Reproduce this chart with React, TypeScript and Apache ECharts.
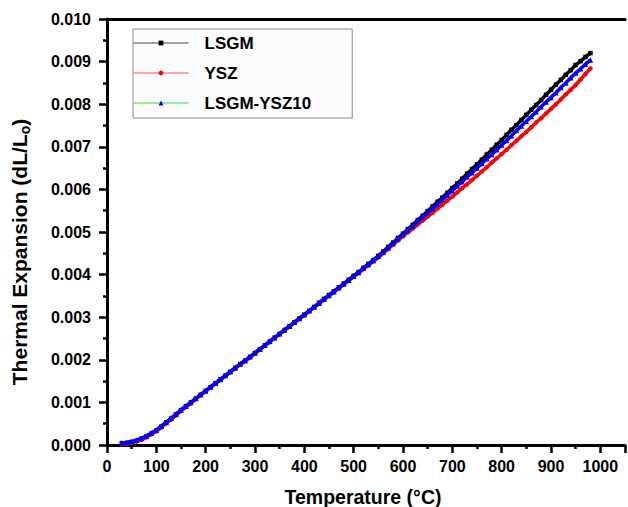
import React, { useEffect, useRef } from "react";
import * as echarts from "echarts";

const temperatures = [
  30, 40, 50, 60, 70, 80, 90, 100, 110, 120, 130, 140, 150, 160, 170, 180, 190, 200,
  210, 220, 230, 240, 250, 260, 270, 280, 290, 300, 310, 320, 330, 340, 350, 360, 370, 380,
  390, 400, 410, 420, 430, 440, 450, 460, 470, 480, 490, 500, 510, 520, 530, 540, 550, 560,
  570, 580, 590, 600, 610, 620, 630, 640, 650, 660, 670, 680, 690, 700, 710, 720, 730, 740,
  750, 760, 770, 780, 790, 800, 810, 820, 830, 840, 850, 860, 870, 880, 890, 900, 910, 920,
  930, 940, 950, 960, 970, 980,
];

const lsgm = [
  0.00004, 0.00005, 0.00007, 0.0001, 0.00015, 0.0002, 0.00027, 0.00034, 0.00043, 0.00053,
  0.00062, 0.00072, 0.00082, 0.00091, 0.001, 0.00109, 0.00118, 0.00127, 0.00136, 0.00145,
  0.00154, 0.00163, 0.00172, 0.00181, 0.0019, 0.00198, 0.00207, 0.00216, 0.00225, 0.00234,
  0.00243, 0.00252, 0.00261, 0.0027, 0.00279, 0.00288, 0.00297, 0.00306, 0.00315, 0.00324,
  0.00334, 0.00343, 0.00352, 0.00361, 0.0037, 0.00379, 0.00388, 0.00397, 0.00406, 0.00416,
  0.00425, 0.00434, 0.00444, 0.00454, 0.00465, 0.00475, 0.00486, 0.00496, 0.00507, 0.00517,
  0.00528, 0.00538, 0.00549, 0.0056, 0.00571, 0.00581, 0.00592, 0.00603, 0.00614, 0.00625,
  0.00637, 0.00648, 0.00659, 0.0067, 0.00682, 0.00693, 0.00705, 0.00716, 0.00728, 0.0074,
  0.00751, 0.00763, 0.00775, 0.00787, 0.00798, 0.0081, 0.00822, 0.00834, 0.00846, 0.00857,
  0.00869, 0.0088, 0.00892, 0.00901, 0.00911, 0.0092,
];

const ysz = [
  0.00002, 0.00003, 0.00005, 0.00008, 0.00012, 0.00018, 0.00025, 0.00032, 0.00041, 0.00051,
  0.0006, 0.0007, 0.0008, 0.00089, 0.00098, 0.00108, 0.00117, 0.00126, 0.00135, 0.00144,
  0.00153, 0.00162, 0.00171, 0.0018, 0.00189, 0.00197, 0.00206, 0.00215, 0.00224, 0.00233,
  0.00242, 0.00251, 0.0026, 0.00269, 0.00278, 0.00287, 0.00296, 0.00305, 0.00314, 0.00323,
  0.00332, 0.00341, 0.0035, 0.00359, 0.00368, 0.00377, 0.00386, 0.00395, 0.00404, 0.00413,
  0.00422, 0.00431, 0.0044, 0.0045, 0.0046, 0.0047, 0.0048, 0.0049, 0.00499, 0.00508,
  0.00518, 0.00527, 0.00536, 0.00545, 0.00555, 0.00564, 0.00574, 0.00583, 0.00593, 0.00603,
  0.00612, 0.00622, 0.00632, 0.00642, 0.00652, 0.00663, 0.00673, 0.00683, 0.00693, 0.00704,
  0.00714, 0.00725, 0.00735, 0.00746, 0.00757, 0.00767, 0.00778, 0.00789, 0.008, 0.00811,
  0.00823, 0.00834, 0.00845, 0.00858, 0.00871, 0.00884,
];

const lsgmYsz10 = [
  0.00005, 0.00006, 0.00008, 0.00011, 0.00016, 0.00021, 0.00028, 0.00035, 0.00044, 0.00053,
  0.00063, 0.00072, 0.00082, 0.00091, 0.001, 0.00109, 0.00118, 0.00127, 0.00136, 0.00145,
  0.00154, 0.00163, 0.00172, 0.00181, 0.0019, 0.00198, 0.00207, 0.00216, 0.00225, 0.00234,
  0.00243, 0.00252, 0.00261, 0.0027, 0.00279, 0.00288, 0.00297, 0.00306, 0.00315, 0.00324,
  0.00333, 0.00342, 0.00351, 0.0036, 0.00369, 0.00378, 0.00387, 0.00396, 0.00405, 0.00415,
  0.00424, 0.00433, 0.00443, 0.00453, 0.00463, 0.00473, 0.00484, 0.00494, 0.00504, 0.00514,
  0.00525, 0.00535, 0.00545, 0.00555, 0.00566, 0.00576, 0.00587, 0.00597, 0.00608, 0.00618,
  0.00629, 0.00639, 0.0065, 0.00661, 0.00672, 0.00682, 0.00693, 0.00704, 0.00715, 0.00726,
  0.00738, 0.00749, 0.0076, 0.00771, 0.00782, 0.00794, 0.00805, 0.00816, 0.00827, 0.00839,
  0.0085, 0.00862, 0.00873, 0.00883, 0.00894, 0.00904,
];

const seriesNames = ["LSGM", "YSZ", "LSGM-YSZ10"];
const xTitle = "Temperature (°C)";

const FONT = "'Liberation Sans', Arial, sans-serif";

export default function App() {
  const ref = useRef<HTMLDivElement>(null);

  useEffect(() => {
    if (!ref.current) return;
    const chart = echarts.init(ref.current, null, { renderer: "svg" });
    const pair = (arr: number[]) => temperatures.map((t, i) => [t, arr[i]]);

    const axisCommon = {
      axisLine: { show: true, lineStyle: { color: "#000", width: 3 } },
      splitLine: { show: false },
    };

    chart.setOption({
      animation: false,
      backgroundColor: "#fff",
      grid: { left: 107, top: 19, width: 523, height: 426 },
      legend: {
        left: 133,
        top: 29,
        orient: "vertical",
        itemWidth: 55,
        itemHeight: 6,
        itemGap: 13,
        padding: [5.5, 41, 6.5, 0],
        borderColor: "#8a8a8a",
        borderWidth: 1,
        backgroundColor: "#fcfcfc",
        textStyle: {
          fontFamily: FONT,
          fontWeight: "bold",
          fontSize: 17,
          color: "#000",
          padding: [0, 0, 0, 11],
        },
        data: [
          { name: seriesNames[0], itemStyle: { color: "#000" }, lineStyle: { color: "#444", width: 1 } },
          { name: seriesNames[1], itemStyle: { color: "#ff0000" }, lineStyle: { color: "#ff5050", width: 1 } },
          { name: seriesNames[2], itemStyle: { color: "#0000ff" }, lineStyle: { color: "#30e030", width: 1 } },
        ],
      },
      xAxis: [
        {
          type: "value",
          min: 0,
          max: 1050,
          interval: 100,
          position: "bottom",
          ...axisCommon,
          axisTick: { show: true, length: 8, inside: false, lineStyle: { color: "#000", width: 2.5 } },
          minorTick: { show: true, splitNumber: 2, length: 4, lineStyle: { color: "#000", width: 2.5 } },
          axisLabel: {
            margin: 13,
            fontFamily: FONT,
            fontWeight: "bold",
            fontSize: 16,
            color: "#000",
            formatter: (v: number) => (v <= 1000 ? String(v) : ""),
          },
        },
        {
          type: "value",
          min: 0,
          max: 1050,
          position: "top",
          ...axisCommon,
          axisTick: { show: false },
          axisLabel: { show: false },
        },
      ],
      yAxis: {
        type: "value",
        min: 0,
        max: 0.01,
        interval: 0.001,
        ...axisCommon,
        axisTick: { show: true, length: 8, lineStyle: { color: "#000", width: 2.5 } },
        minorTick: { show: true, splitNumber: 2, length: 4, lineStyle: { color: "#000", width: 2.5 } },
        axisLabel: {
          margin: 16,
          fontFamily: FONT,
          fontWeight: "bold",
          fontSize: 16,
          color: "#000",
          formatter: (v: number) => v.toFixed(3),
        },
      },
      graphic: [
        {
          type: "text",
          x: 363,
          y: 497,
          style: {
            text: xTitle,
            font: `bold 19.5px ${FONT}`,
            fill: "#000",
            align: "center",
            verticalAlign: "middle",
          },
        },
        {
          type: "text",
          x: 19,
          y: 252,
          rotation: Math.PI / 2,
          style: {
            text: "Thermal Expansion (dL/L{s|o})",
            font: `bold 21px ${FONT}`,
            fontFamily: FONT,
            fontWeight: "bold",
            fontSize: 21,
            fill: "#000",
            align: "center",
            verticalAlign: "middle",
            rich: {
              s: {
                fontFamily: FONT,
                fontWeight: "bold",
                fontSize: 14,
                fill: "#000",
                padding: [12, 0, 0, 0],
              },
            },
          },
        },
      ],
      series: [
        {
          name: seriesNames[0],
          type: "line",
          data: pair(lsgm),
          symbol: "rect",
          symbolSize: 4.5,
          itemStyle: { color: "#000" },
          lineStyle: { color: "#000", width: 3.5 },
          z: 2,
        },
        {
          name: seriesNames[1],
          type: "line",
          data: pair(ysz),
          symbol: "circle",
          symbolSize: 4.5,
          itemStyle: { color: "#ff0000" },
          lineStyle: { color: "#ff0000", width: 3.5 },
          z: 3,
        },
        {
          name: seriesNames[2],
          type: "line",
          data: pair(lsgmYsz10),
          symbol: "triangle",
          symbolSize: 5.5,
          itemStyle: { color: "#0000ff" },
          lineStyle: { color: "#0000ff", width: 3.5 },
          z: 4,
        },
      ],
    });

    return () => chart.dispose();
  }, []);

  return <div ref={ref} style={{ width: 628, height: 507, position: "absolute", left: 0, top: 0 }} />;
}
